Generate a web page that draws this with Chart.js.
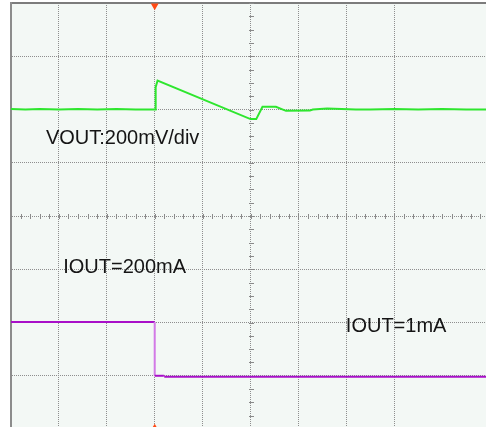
<!DOCTYPE html>
<html>
<head>
<meta charset="utf-8">
<script src="https://cdn.jsdelivr.net/npm/chart.js@4/dist/chart.umd.min.js"></script>
<style>
  html, body { margin:0; padding:0; background:#ffffff; overflow:hidden; width:486px; height:427px; }
  #wrap { position:absolute; left:0; top:0; width:486px; height:427px; }
</style>
</head>
<body>
<div id="wrap"><canvas id="c" width="486" height="427"></canvas></div>
<script>
// Scope screen: x in divisions (0..10, right part cut off), y in divisions (-4..4, bottom cut off)
const voutX = [0, 0.3, 0.6, 1.0, 1.4, 1.8, 2.2, 2.6, 2.99, 3.01, 3.02, 3.06, 5.0, 5.12, 5.25, 5.53, 5.74, 6.24, 6.3, 6.6, 6.9, 7.2, 7.5, 8.0, 8.5, 9.0, 9.5, 10];
const voutY = [2.01, 2.0, 2.01, 2.0, 2.01, 2.0, 2.01, 2.0, 2.0, 2.0, 2.42, 2.545, 1.82, 1.82, 2.05, 2.05, 1.975, 1.98, 2.0, 2.02, 2.01, 2.0, 2.0, 2.01, 2.0, 2.01, 2.0, 2.0];
const ioutX = [0, 3.0, 3.0, 3.2, 3.2, 10];
const ioutY = [-1.99, -1.99, -3.0, -3.0, -3.02, -3.02];
const markerX = [3.0, 3.0];
const markerY = [3.95, -3.985];
const markerRot = [180, 0];
const labelTexts = ["VOUT:200mV/div", "IOUT=200mA", "IOUT=1mA"];
const labelX = [0.73, 1.09, 6.99];
const labelY = [1.45, -0.97, -2.07];
const xRange = [0, 9.916];
const yRange = [-3.962, 4];

const pts = (xs, ys) => xs.map((x, i) => ({x, y: ys[i]}));
const keepWhole = scale => { scale.ticks = scale.ticks.filter(t => Math.abs(t.value - Math.round(t.value)) < 1e-6); };

const bgPlugin = {
  id: 'bg',
  beforeDraw(chart) {
    const {ctx, chartArea: a} = chart;
    ctx.save();
    ctx.fillStyle = '#f3f8f5';
    ctx.fillRect(a.left, a.top, a.right - a.left, a.bottom - a.top);
    ctx.restore();
  }
};

const centerTicks = {
  id: 'centerTicks',
  beforeDatasetsDraw(chart) {
    const {ctx, scales: {x, y}} = chart;
    const cx = Math.round(x.getPixelForValue(5)) + 0.5, cy = Math.round(y.getPixelForValue(0)) + 0.5;
    ctx.save();
    ctx.strokeStyle = '#8a8a8a';
    ctx.lineWidth = 1;
    ctx.beginPath();
    for (let i = 0; i <= 50; i++) {
      const px = Math.round(x.getPixelForValue(i / 5)) + 0.5;
      ctx.moveTo(px, cy - 2.5); ctx.lineTo(px, cy + 2.5);
    }
    for (let j = 0; j <= 32; j++) {
      const py = Math.round(y.getPixelForValue(-4 + j / 4)) + 0.5;
      ctx.moveTo(cx - 2.5, py); ctx.lineTo(cx + 2.5, py);
    }
    ctx.stroke();
    ctx.restore();
  }
};

const labelsPlugin = {
  id: 'labels',
  afterDatasetsDraw(chart) {
    const {ctx, scales: {x, y}} = chart;
    ctx.save();
    ctx.fillStyle = '#151515';
    ctx.font = '20px "Liberation Sans", Arial, sans-serif';
    ctx.textBaseline = 'middle';
    ctx.textAlign = 'left';
    labelTexts.forEach((t, i) => {
      ctx.fillText(t, x.getPixelForValue(labelX[i]), y.getPixelForValue(labelY[i]));
    });
    ctx.restore();
  }
};

const gridOpts = { display: true, color: '#8e8e8e', lineWidth: 1, drawTicks: false };

new Chart(document.getElementById('c'), {
  type: 'scatter',
  data: {
    datasets: [
      {
        label: 'VOUT',
        data: pts(voutX, voutY),
        showLine: true,
        borderColor: '#2ee62e',
        borderWidth: 2,
        pointRadius: 0,
        tension: 0
      },
      {
        label: 'IOUT',
        data: pts(ioutX, ioutY),
        showLine: true,
        borderColor: '#a810c8',
        borderWidth: 2,
        pointRadius: 0,
        tension: 0,
        segment: {
          borderColor: c => c.p0.parsed.x === c.p1.parsed.x ? '#d27ae6' : '#a810c8'
        }
      },
      {
        label: 'trigger',
        data: pts(markerX, markerY),
        showLine: false,
        pointStyle: 'triangle',
        rotation: markerRot,
        pointRadius: 4.5,
        backgroundColor: '#ff4a14',
        borderColor: '#ff4a14',
        borderWidth: 0,
        clip: false
      }
    ]
  },
  options: {
    responsive: false,
    animation: false,
    devicePixelRatio: 1,
    layout: { autoPadding: false, padding: { left: 11, top: 3, right: 0, bottom: 0 } },
    plugins: { legend: { display: false }, tooltip: { enabled: false } },
    scales: {
      x: {
        type: 'linear', min: xRange[0], max: xRange[1],
        ticks: { display: false, stepSize: 1 },
        afterBuildTicks: keepWhole,
        grid: gridOpts,
        border: { display: false, dash: [1, 1] }
      },
      xTop: {
        type: 'linear', position: 'top', min: xRange[0], max: xRange[1],
        ticks: { display: false },
        grid: { display: false, drawTicks: false },
        border: { display: true, color: '#7c7c7c', width: 2 }
      },
      y: {
        type: 'linear', min: yRange[0], max: yRange[1],
        ticks: { display: false, stepSize: 1 },
        afterBuildTicks: keepWhole,
        grid: gridOpts,
        border: { display: true, color: '#8c8c8c', width: 2, dash: [1, 1] }
      }
    }
  },
  plugins: [bgPlugin, centerTicks, labelsPlugin]
});
</script>
</body>
</html>
